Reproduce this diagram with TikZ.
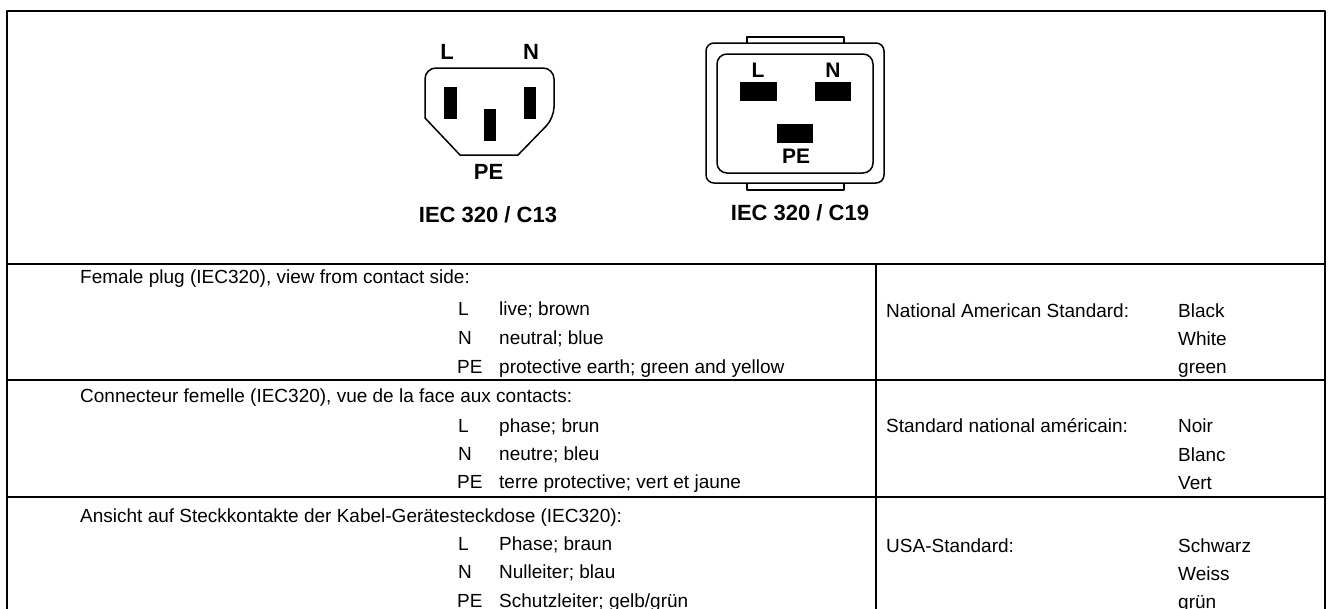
\documentclass[tikz,border=0pt]{standalone}
\usepackage{fontspec}
\setmainfont{Liberation Sans}
\begin{document}
\begin{tikzpicture}[x=1pt,y=-1pt,line join=round,
  txt/.style={font=\fontsize{19}{22}\selectfont,inner sep=0pt,anchor=base west},
  lbl/.style={font=\bfseries\fontsize{22}{26}\selectfont,inner sep=0pt},
  lblb/.style={font=\bfseries\fontsize{21}{24}\selectfont,inner sep=0pt},
  rule/.style={line width=1.4pt},
  outline/.style={line width=1.5pt},
  pin/.style={fill=black}]
\useasboundingbox (0,0) rectangle (1331,608);
\clip (0,0) rectangle (1331,608);
\fill[white] (0,0) rectangle (1331,608);
% frame and table rules
\draw[rule] (7,640) -- (7,11) -- (1325,11) -- (1325,640);
\draw[rule] (7,264) -- (1325,264);
\draw[rule] (7,380) -- (1325,380);
\draw[rule] (7,497) -- (1325,497);
\draw[rule] (876,264) -- (876,640);
% C13 connector
\draw[outline] (425,118) {[rounded corners=11pt] -- (425,68) -- (554,68) -- (554,118)} -- (518,155) -- (460,155) -- cycle;
\fill[pin] (444,87) rectangle (457,119);
\fill[pin] (524,87) rectangle (536,119);
\fill[pin] (484,109) rectangle (496,141);
\node[lbl] (c13L) at (447,52) {L};
\node[lbl] (c13N) at (531,52) {N};
\node[lbl] (c13PE) at (488.5,172) {PE};
\node[lbl] (c13name) at (488,215) {IEC 320 / C13};
% C19 connector
\draw[outline] (747,43) -- (747,37) -- (844,37) -- (844,43);
\draw[outline] (747,183) -- (747,190) -- (844,190) -- (844,183);
\draw[outline,rounded corners=8pt] (706,43) rectangle (884,183);
\draw[outline,rounded corners=10pt] (717,54) rectangle (873,173);
\fill[pin] (740,82) rectangle (777,101);
\fill[pin] (815,82) rectangle (851,101);
\fill[pin] (777,124) rectangle (813,143);
\node[lblb] (c19L) at (758,70) {L};
\node[lblb] (c19N) at (833,70) {N};
\node[lblb] (c19PE) at (796,156) {PE};
\node[lbl] (c19name) at (800,213) {IEC 320 / C19};
% Row 1 (English)
\node[txt] (enhead) at (80,283) {Female plug (IEC320), view from contact side:};
\node[txt] (enL) at (458,315) {L};
\node[txt] (enLt) at (499,315) {live; brown};
\node[txt] (enN) at (458,344) {N};
\node[txt] (enNt) at (499,344) {neutral; blue};
\node[txt] (enPE) at (457,373) {PE};
\node[txt] (enPEt) at (499,373) {protective earth; green and yellow};
\node[txt] (enstd) at (886,317) {National American Standard:};
\node[txt] (enc1) at (1178,317) {Black};
\node[txt] (enc2) at (1178,345) {White};
\node[txt] (enc3) at (1178,373) {green};
% Row 2 (French)
\node[txt] (frhead) at (80,402) {Connecteur femelle (IEC320), vue de la face aux contacts:};
\node[txt] (frL) at (458,432) {L};
\node[txt] (frLt) at (499,432) {phase; brun};
\node[txt] (frN) at (458,460) {N};
\node[txt] (frNt) at (499,460) {neutre; bleu};
\node[txt] (frPE) at (457,488) {PE};
\node[txt] (frPEt) at (499,488) {terre protective; vert et jaune};
\node[txt] (frstd) at (886,432) {Standard national américain:};
\node[txt] (frc1) at (1178,432) {Noir};
\node[txt] (frc2) at (1178,461) {Blanc};
\node[txt] (frc3) at (1178,489) {Vert};
% Row 3 (German)
\node[txt] (dehead) at (80,522) {Ansicht auf Steckkontakte der Kabel-Gerätesteckdose (IEC320):};
\node[txt] (deL) at (458,550) {L};
\node[txt] (deLt) at (499,550) {Phase; braun};
\node[txt] (deN) at (458,578) {N};
\node[txt] (deNt) at (499,578) {Nulleiter; blau};
\node[txt] (dePE) at (457,607) {PE};
\node[txt] (dePEt) at (499,607) {Schutzleiter; gelb/grün};
\node[txt] (destd) at (886,552) {USA-Standard:};
\node[txt] (dec1) at (1178,552) {Schwarz};
\node[txt] (dec2) at (1178,580) {Weiss};
\node[txt] (dec3) at (1178,608) {grün};
\end{tikzpicture}
\end{document}
